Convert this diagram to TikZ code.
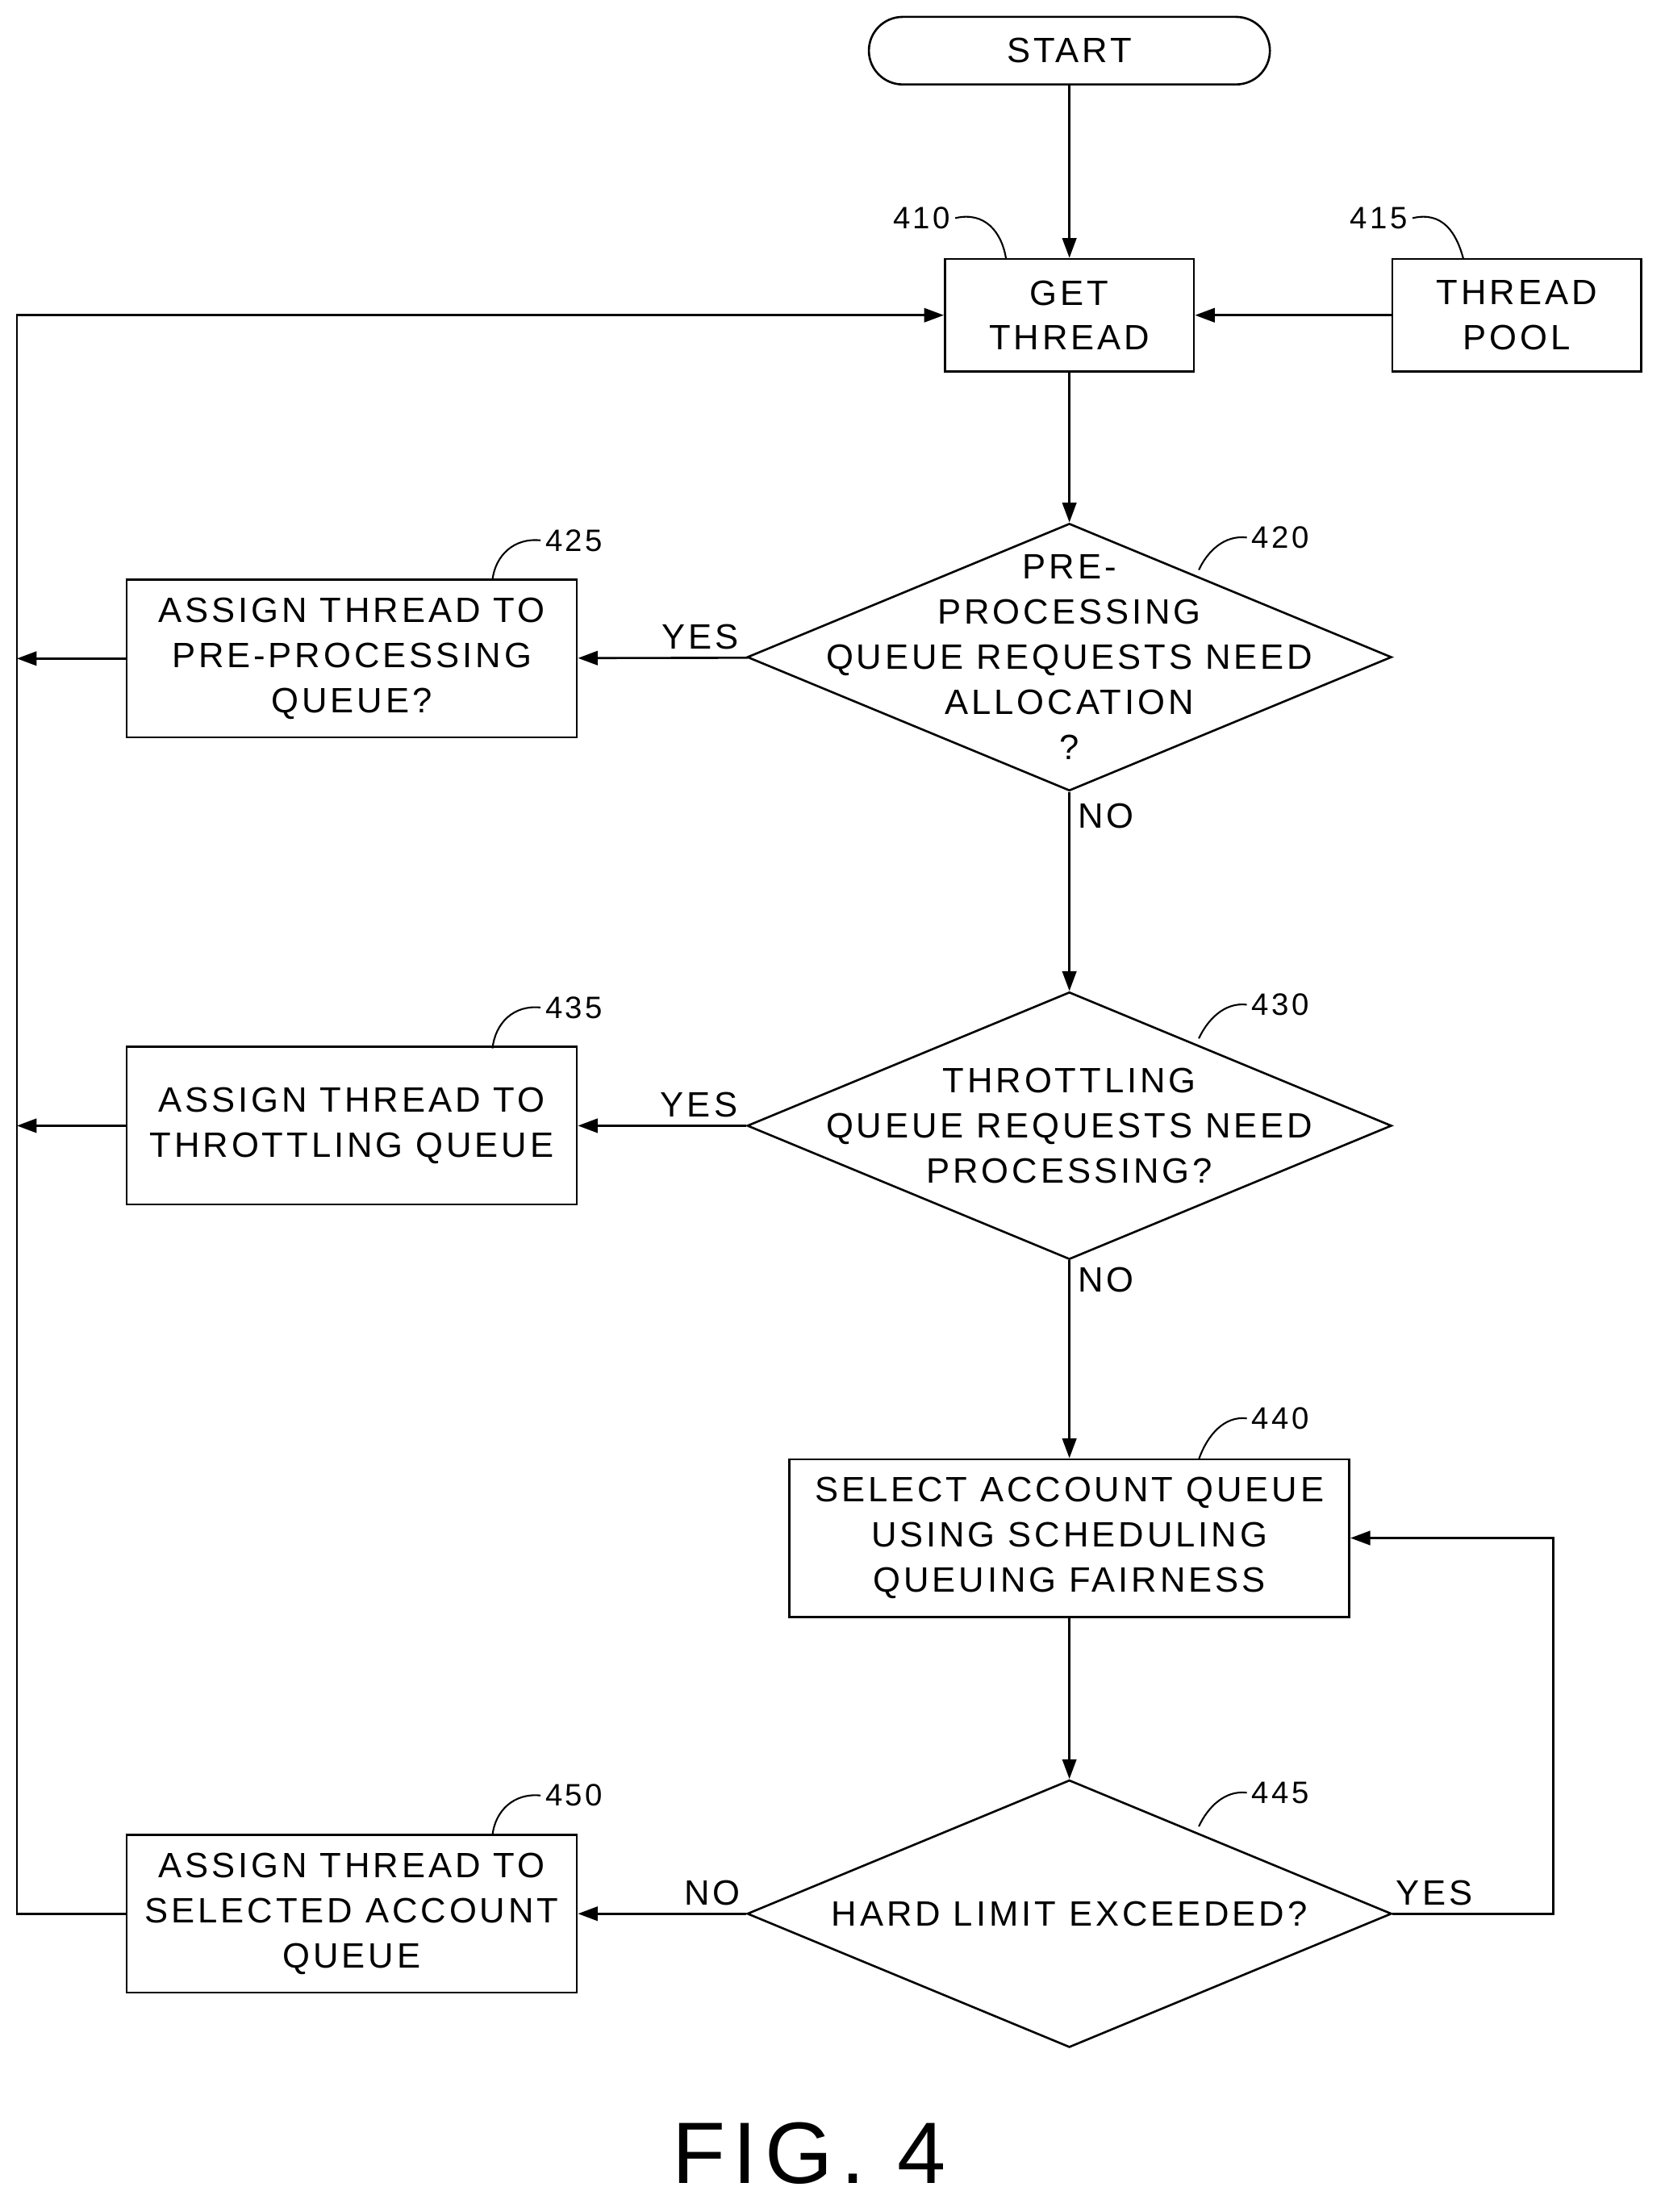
\documentclass[tikz,border=0pt]{standalone}
\usepackage{fontspec}
\setmainfont{Liberation Sans}[LetterSpace=9]
\usetikzlibrary{shapes.geometric,arrows.meta}
\begin{document}
\begin{tikzpicture}[x=1pt,y=-1pt,
  every node/.style={font=\fontsize{25}{32}\selectfont},
  box/.style={draw,line width=1.5pt,inner sep=0pt,align=center},
  dia/.style={draw,line width=1.5pt,diamond,inner sep=0pt,minimum width=458pt,minimum height=190pt},
  ref/.style={font=\fontsize{22}{26}\selectfont},
  flow/.style={line width=1.5pt,-{Triangle[length=14pt,width=10pt]}},
  lead/.style={line width=1.2pt}]
\useasboundingbox (0,0) rectangle (1183,1572);

% boxes
\node[box,rounded corners=24pt,minimum width=285pt,minimum height=48pt] (start) at (760,36) {START};
\node[box,minimum width=177pt,minimum height=80pt] (get) at (760,224) {GET\\THREAD};
\node[box,minimum width=177pt,minimum height=80pt] (pool) at (1078,224) {THREAD\\POOL};
\node[dia] (d420) at (760,467) {};
\node[align=center] at (d420) {PRE-\\PROCESSING\\QUEUE REQUESTS NEED\\ALLOCATION\\?};
\node[box,minimum width=320pt,minimum height=112pt] (b425) at (250,468) {ASSIGN THREAD TO\\PRE-PROCESSING\\QUEUE?};
\node[dia] (d430) at (760,800) {};
\node[align=center] at (d430) {THROTTLING\\QUEUE REQUESTS NEED\\PROCESSING?};
\node[box,minimum width=320pt,minimum height=112pt] (b435) at (250,800) {ASSIGN THREAD TO\\THROTTLING QUEUE};
\node[box,minimum width=398pt,minimum height=112pt] (b440) at (760,1093) {SELECT ACCOUNT QUEUE\\USING SCHEDULING\\QUEUING FAIRNESS};
\node[dia] (d445) at (760,1360) {};
\node at (d445) {HARD LIMIT EXCEEDED?};
\node[box,minimum width=320pt,minimum height=112pt] (b450) at (250,1360) {ASSIGN THREAD TO\\SELECTED ACCOUNT\\QUEUE};

% connectors
\draw[flow] (start) -- (get);
\draw[flow] (pool) -- (get);
\draw[flow] (get) -- (d420);
\draw[flow] (d420) -- node[above,pos=0.28,yshift=2pt] {YES} (b425);
\draw[flow] (d420) -- node[right,pos=0.12,xshift=2pt] {NO} (d430);
\draw[flow] (d430) -- node[above,pos=0.28,yshift=2pt] {YES} (b435);
\draw[flow] (d430) -- node[right,pos=0.1,xshift=2pt] {NO} (b440);
\draw[flow] (b440) -- (d445);
\draw[flow] (d445) -- node[above,pos=0.2,yshift=2pt] {NO} (b450);
\coordinate (l425) at (12,468);
\coordinate (l435) at (12,800);
\draw[flow] (b425) -- (l425);
\draw[flow] (b435) -- (l435);
\draw[flow] (b450.west) -| (12,224) -- (get.west);
\draw[flow] (d445.east) node[above right,xshift=-2pt,yshift=2pt] {YES} -| (1104,1093) -- (b440.east);

% reference numerals
\node[ref] (n410) at (655,155) {410};
\draw[lead] (n410.east) .. controls (700,150) and (712,165) .. (715,184);
\node[ref] (n415) at (980,155) {415};
\draw[lead] (n415.east) .. controls (1025,150) and (1035,165) .. (1040,184);
\node[ref] (n425) at (408,384) {425};
\draw[lead] (n425.west) .. controls (365,382) and (352,395) .. (350,412);
\node[ref] (n420) at (910,382) {420};
\draw[lead] (n420.west) .. controls (870,380) and (858,392) .. (852,405);
\node[ref] (n435) at (408,716) {435};
\draw[lead] (n435.west) .. controls (365,714) and (352,727) .. (350,745);
\node[ref] (n430) at (910,714) {430};
\draw[lead] (n430.west) .. controls (870,712) and (858,725) .. (852,738);
\node[ref] (n440) at (910,1008) {440};
\draw[lead] (n440.west) .. controls (870,1006) and (858,1020) .. (852,1037);
\node[ref] (n445) at (910,1274) {445};
\draw[lead] (n445.west) .. controls (870,1272) and (858,1285) .. (852,1298);
\node[ref] (n450) at (408,1276) {450};
\draw[lead] (n450.west) .. controls (365,1274) and (352,1287) .. (350,1304);

\node[font=\fontsize{62}{70}\selectfont] (fig) at (575,1530) {FIG. 4};
\end{tikzpicture}
\end{document}
